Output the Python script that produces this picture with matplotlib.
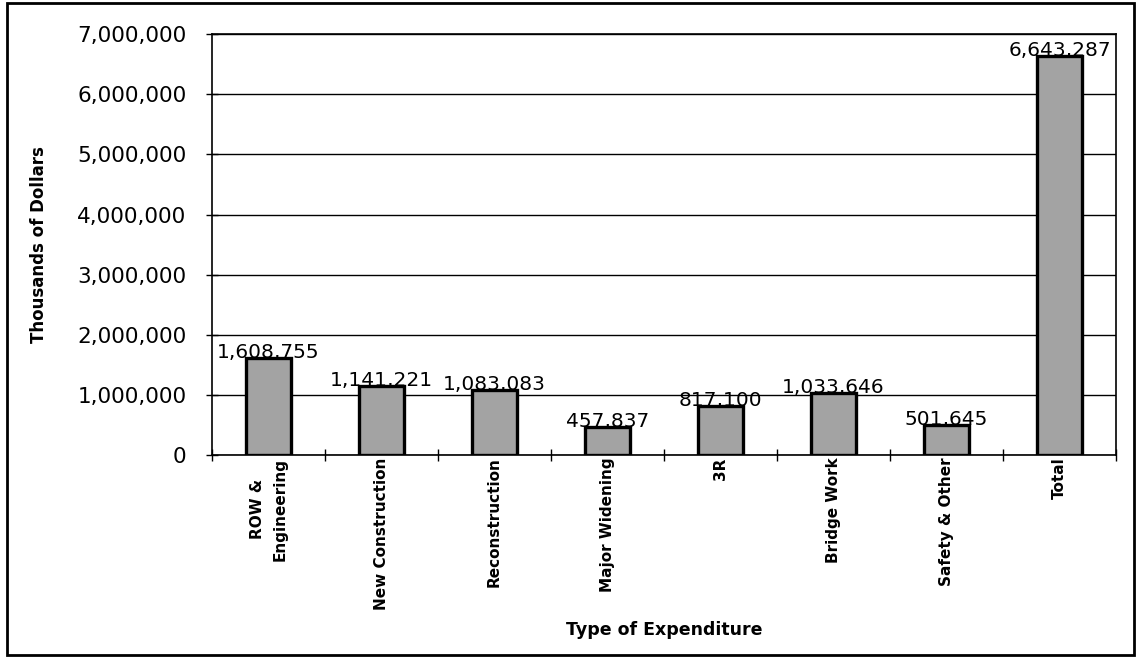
import matplotlib
matplotlib.use("Agg")
import matplotlib.pyplot as plt
from matplotlib.patches import Rectangle
from matplotlib.ticker import FuncFormatter, FixedLocator, NullFormatter
import numpy as np

categories = ["ROW &\nEngineering", "New Construction", "Reconstruction",
              "Major Widening", "3R", "Bridge Work", "Safety & Other", "Total"]
values = [1608755, 1141221, 1083083, 457837, 817100, 1033646, 501645, 6643287]
y_ticks = [0, 1000000, 2000000, 3000000, 4000000, 5000000, 6000000, 7000000]

plt.rcParams['font.family'] = ['DejaVu Sans']

fig = plt.figure(figsize=(11.4, 6.6), dpi=100)
ax = fig.add_axes([0.186, 0.311, 0.793, 0.637])

x = np.arange(len(categories))
ax.bar(x, values, width=0.4, color='#a3a3a3', edgecolor='black',
       linewidth=2.4, zorder=3)

for xi, v in zip(x, values):
    ax.annotate(f"{v:,}", (xi, v), xytext=(0, -3), textcoords='offset points',
                ha='center', va='bottom', fontsize=14.5, zorder=4)

ax.set_xlim(-0.5, len(categories) - 0.5)
ax.set_ylim(0, 7000000)
ax.set_yticks(y_ticks)
ax.yaxis.set_major_formatter(FuncFormatter(lambda v, p: f"{int(v):,}"))
ax.grid(axis='y', color='black', linewidth=1, zorder=0)

# category boundary ticks (major), labels at minor positions
ax.xaxis.set_major_locator(FixedLocator(np.arange(-0.5, len(categories), 1.0)))
ax.xaxis.set_major_formatter(NullFormatter())
ax.xaxis.set_minor_locator(FixedLocator(x))
ax.set_xticklabels(categories, minor=True, rotation=90, fontsize=11,
                   fontweight='bold', ha='center', va='top',
                   multialignment='center', linespacing=1.6)
ax.tick_params(axis='x', which='minor', length=0, pad=2)
ax.tick_params(axis='x', which='major', direction='inout', length=9, width=1)
ax.tick_params(axis='y', direction='inout', length=9, width=1, pad=14,
               labelsize=15.5)

for s in ax.spines.values():
    s.set_linewidth(1.2)
    s.set_color('black')

ax.set_ylabel("Thousands of Dollars", fontsize=12, fontweight='bold')
ax.yaxis.set_label_coords(-0.182, 0.5)
ax.set_xlabel("Type of Expenditure", fontsize=12.5, fontweight='bold')
ax.xaxis.set_label_coords(0.5, -0.395)

fig.patches.append(Rectangle((0.006, 0.008), 0.989, 0.987,
                             transform=fig.transFigure, fill=False,
                             edgecolor='black', linewidth=2))

fig.savefig("out.png", dpi=100)
